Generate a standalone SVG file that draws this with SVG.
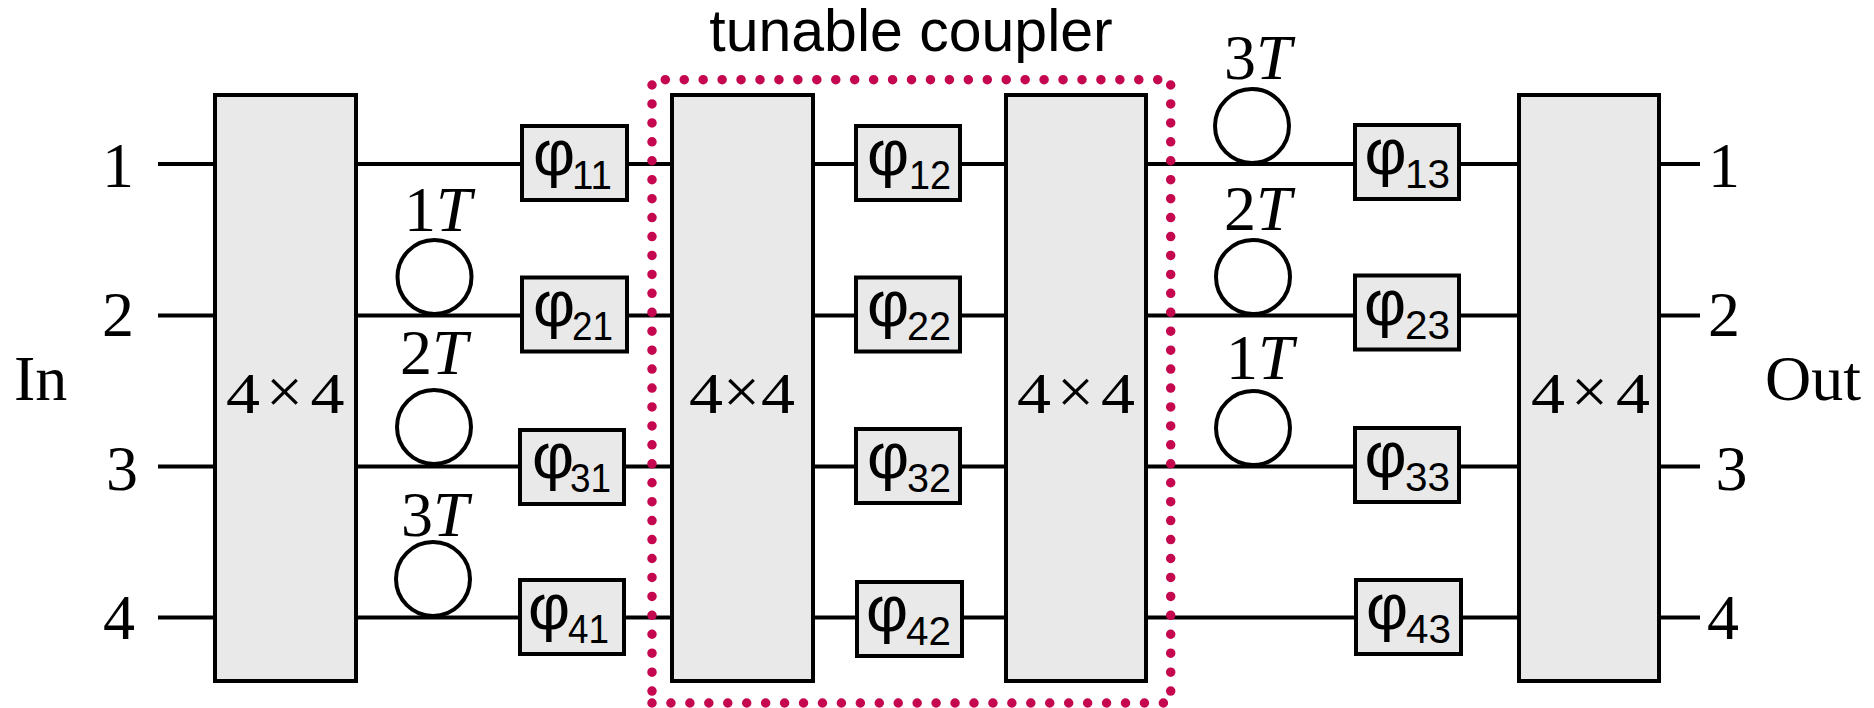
<svg xmlns="http://www.w3.org/2000/svg" width="1874" height="708" viewBox="0 0 1874 708">
<style>
.w{stroke:#000;stroke-width:4;fill:none}
.b{fill:#e9e9e9;stroke:#000;stroke-width:4}
.c{fill:#fff;stroke:#000;stroke-width:4}
.d{stroke:#c4074f;stroke-width:9.5;stroke-linecap:round;stroke-dasharray:0 18.94;fill:none}
.s{font-family:"Liberation Serif",serif;font-size:64px;fill:#000}
.m{text-anchor:middle}
.x{font-family:"Liberation Serif",serif;font-size:57px;fill:#000}
.y{font-family:"Liberation Serif",serif;font-size:64px;fill:#000}
.i{font-style:italic}
.p{font-family:"Liberation Sans",sans-serif;font-size:65px;fill:#000}
.u{font-family:"Liberation Sans",sans-serif;font-size:41px;fill:#000}
.h{font-family:"Liberation Sans",sans-serif;font-size:59px;fill:#000}
</style>
<rect width="1874" height="708" fill="#fff"/>
<g id="connectors">
<path class="w" d="M158 164H215M158 315.500H215M158 466.500H215M158 617.500H215"/>
<path class="w" d="M356 164H522M356 315.500H522M356 466.500H520M356 617.500H520"/>
<path class="w" d="M627 164H672M627 315.500H672M624 466.500H672M624 617.500H672"/>
<path class="w" d="M813 164H856M813 315.500H856M813 466.500H856M813 617.500H857"/>
<path class="w" d="M960 164H1006M960 315.500H1006M960 466.500H1006M962 617.500H1006"/>
<path class="w" d="M1146 164H1355M1146 315.500H1355M1146 466.500H1355M1146 617.500H1356"/>
<path class="w" d="M1459 164H1519M1459 315.500H1519M1459 466.500H1519M1461 617.500H1519"/>
<path class="w" d="M1659 164H1700M1659 315.500H1700M1659 466.500H1700M1659 617.500H1700"/>
</g>
<g id="coupler"><path class="d" d="M665.300 79.700H1160"/><path class="d" d="M1170.700 85V695"/><path class="d" d="M652 85V695"/><path class="d" d="M652 703H1166"/>
<text class="h m" x="911" y="51">tunable coupler</text></g>
<g id="in-labels">
<text class="s" x="14" y="400">In</text>
<text class="s m" x="118" y="187">1</text><text class="s m" x="118" y="336">2</text><text class="s m" x="122" y="490">3</text><text class="s m" x="119" y="639">4</text>
</g>
<g id="out-labels">
<text class="s" x="1765" y="400">Out</text>
<text class="s m" x="1724" y="187">1</text><text class="s m" x="1724" y="336">2</text><text class="s m" x="1731.500" y="490">3</text><text class="s m" x="1723" y="639">4</text>
</g>
<g id="mmi1"><rect class="b" x="215" y="95" width="141" height="586"/><text class="x" x="226" y="413" textLength="34" lengthAdjust="spacingAndGlyphs">4</text><text class="y" x="266" y="413" textLength="37" lengthAdjust="spacingAndGlyphs">×</text><text class="x" x="310.500" y="413" textLength="34" lengthAdjust="spacingAndGlyphs">4</text></g>
<g id="mmi2"><rect class="b" x="672" y="95" width="141" height="586"/><text class="x" x="689" y="413" textLength="34" lengthAdjust="spacingAndGlyphs">4</text><text class="y" x="723" y="413" textLength="37" lengthAdjust="spacingAndGlyphs">×</text><text class="x" x="761" y="413" textLength="34" lengthAdjust="spacingAndGlyphs">4</text></g>
<g id="mmi3"><rect class="b" x="1006" y="95" width="140" height="586"/><text class="x" x="1017" y="413" textLength="34" lengthAdjust="spacingAndGlyphs">4</text><text class="y" x="1057" y="413" textLength="37" lengthAdjust="spacingAndGlyphs">×</text><text class="x" x="1101" y="413" textLength="34" lengthAdjust="spacingAndGlyphs">4</text></g>
<g id="mmi4"><rect class="b" x="1519" y="95" width="140" height="586"/><text class="x" x="1531" y="413" textLength="34" lengthAdjust="spacingAndGlyphs">4</text><text class="y" x="1571" y="413" textLength="37" lengthAdjust="spacingAndGlyphs">×</text><text class="x" x="1616" y="413" textLength="34" lengthAdjust="spacingAndGlyphs">4</text></g>
<g id="delay-l1"><circle class="c" cx="434.500" cy="277" r="37"/><text class="s" x="404" y="231">1<tspan class="i">T</tspan></text></g>
<g id="delay-l2"><circle class="c" cx="434" cy="427" r="37"/><text class="s" x="400" y="374">2<tspan class="i">T</tspan></text></g>
<g id="delay-l3"><circle class="c" cx="433" cy="579" r="37"/><text class="s" x="401" y="536">3<tspan class="i">T</tspan></text></g>
<g id="delay-r3"><circle class="c" cx="1252" cy="126" r="37"/><text class="s" x="1224" y="79">3<tspan class="i">T</tspan></text></g>
<g id="delay-r2"><circle class="c" cx="1253" cy="277" r="37"/><text class="s" x="1224" y="230">2<tspan class="i">T</tspan></text></g>
<g id="delay-r1"><circle class="c" cx="1253" cy="428" r="37"/><text class="s" x="1226" y="379">1<tspan class="i">T</tspan></text></g>
<g id="p11"><rect class="b" x="522" y="126" width="105" height="74"/><text class="p" x="533" y="175">φ</text><text class="u" x="572" y="189" textLength="40" lengthAdjust="spacingAndGlyphs">11</text></g>
<g id="p21"><rect class="b" x="522" y="277.500" width="105" height="74"/><text class="p" x="533" y="326">φ</text><text class="u" x="572" y="340" textLength="41" lengthAdjust="spacingAndGlyphs">21</text></g>
<g id="p31"><rect class="b" x="520" y="430" width="104" height="74"/><text class="p" x="532" y="478">φ</text><text class="u" x="570" y="492" textLength="41" lengthAdjust="spacingAndGlyphs">31</text></g>
<g id="p41"><rect class="b" x="520" y="580" width="104" height="74"/><text class="p" x="528" y="629">φ</text><text class="u" x="568" y="643" textLength="41" lengthAdjust="spacingAndGlyphs">41</text></g>
<g id="p12"><rect class="b" x="856" y="126" width="104" height="74"/><text class="p" x="867" y="175">φ</text><text class="u" x="909" y="189" textLength="42" lengthAdjust="spacingAndGlyphs">12</text></g>
<g id="p22"><rect class="b" x="856" y="277.500" width="104" height="74"/><text class="p" x="867" y="326">φ</text><text class="u" x="907" y="340" textLength="44" lengthAdjust="spacingAndGlyphs">22</text></g>
<g id="p32"><rect class="b" x="856" y="429" width="104" height="74"/><text class="p" x="867" y="478">φ</text><text class="u" x="907" y="492" textLength="44" lengthAdjust="spacingAndGlyphs">32</text></g>
<g id="p42"><rect class="b" x="857" y="582" width="105" height="74"/><text class="p" x="866" y="631">φ</text><text class="u" x="906" y="645" textLength="45" lengthAdjust="spacingAndGlyphs">42</text></g>
<g id="p13"><rect class="b" x="1355" y="125" width="104" height="74"/><text class="p" x="1364.500" y="174">φ</text><text class="u" x="1405" y="188" textLength="45" lengthAdjust="spacingAndGlyphs">13</text></g>
<g id="p23"><rect class="b" x="1355" y="275.500" width="104" height="74"/><text class="p" x="1364" y="325">φ</text><text class="u" x="1405" y="339" textLength="45" lengthAdjust="spacingAndGlyphs">23</text></g>
<g id="p33"><rect class="b" x="1355" y="428" width="104" height="74"/><text class="p" x="1364.500" y="477">φ</text><text class="u" x="1405" y="491" textLength="45" lengthAdjust="spacingAndGlyphs">33</text></g>
<g id="p43"><rect class="b" x="1356" y="580" width="105" height="74"/><text class="p" x="1366" y="629">φ</text><text class="u" x="1406" y="643" textLength="45" lengthAdjust="spacingAndGlyphs">43</text></g>
</svg>
